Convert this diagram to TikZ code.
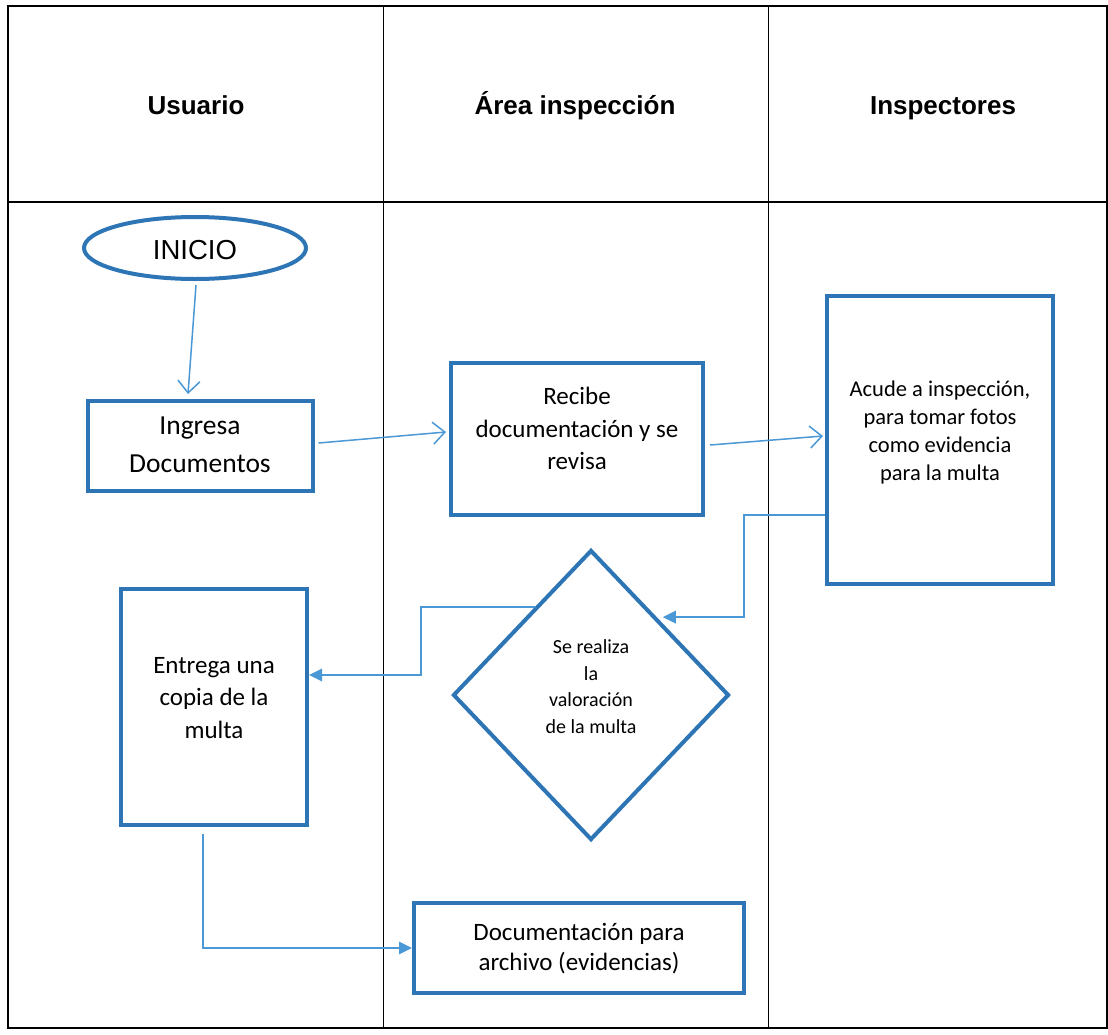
\documentclass[tikz,border=0pt]{standalone}
\usepackage{fontspec}
\setmainfont{Carlito}
\newfontfamily\arialf{Liberation Sans}
\usetikzlibrary{shapes.geometric,arrows.meta,calc}
\definecolor{boxblue}{RGB}{46,117,182}
\definecolor{lineblue}{RGB}{74,152,213}
\newcommand\liftbox[2]{\raisebox{#1}[\height][\depth]{\begin{tabular}{@{}c@{}}#2\end{tabular}}}
\begin{document}
\begin{tikzpicture}[x=1pt,y=-1pt,
  gridthin/.style={draw=black,line width=1pt},
  gridthick/.style={draw=black,line width=1.6pt},
  box/.style={draw=boxblue,line width=4pt,rectangle,inner sep=0pt,fill=white},
  conn/.style={draw=lineblue,line width=1.5pt},
  openarr/.style={conn,-{Straight Barb[length=12pt,width=22pt]}},
  fillarr/.style={conn,-{Triangle[length=13pt,width=12.5pt]}},
  hdr/.style={font=\arialf\bfseries\fontsize{26}{31}\selectfont,anchor=base}]
\useasboundingbox (0,0) rectangle (1108,1034);
\fill[white] (0,0) rectangle (1108,1034);
% swimlane table
\draw[gridthick] (8,6) rectangle (1107,1028);
\draw[gridthick] (8,202) -- (1107,202);
\draw[gridthin] (383,6) -- (383,1028);
\draw[gridthin] (768,6) -- (768,1028);
% headers
\node[hdr] (h1) at (196,114) {Usuario};
\node[hdr] (h2) at (575,114) {Área inspección};
\node[hdr] (h3) at (943,114) {Inspectores};
% nodes
\node[draw=boxblue,line width=4pt,ellipse,minimum width=222pt,minimum height=62pt,inner sep=0pt,fill=white,font=\arialf\fontsize{27.5}{32}\selectfont] (inicio) at (195,248) {\raisebox{-2pt}[\height][\depth]{INICIO}};
\node[box,minimum width=225pt,minimum height=90pt,font=\fontsize{27.5}{38}\selectfont] (ingresa) at (200,446) {\liftbox{0pt}{Ingresa\\Documentos}};
\node[box,minimum width=252pt,minimum height=152pt,font=\fontsize{25}{32.5}\selectfont] (recibe) at (577,439) {\liftbox{8.5pt}{Recibe\\documentación y se\\revisa}};
\node[box,minimum width=226pt,minimum height=288pt,font=\fontsize{22.5}{28}\selectfont] (acude) at (940,440) {\liftbox{7.5pt}{Acude a inspección,\\para tomar fotos\\como evidencia\\para la multa}};
\node[box,minimum width=186pt,minimum height=236pt,font=\fontsize{25}{32.5}\selectfont] (entrega) at (214,707) {\liftbox{8pt}{Entrega una\\copia de la\\multa}};
\node[box,diamond,minimum width=276pt,minimum height=290pt,font=\fontsize{20}{26.5}\selectfont] (dmd) at (591,695) {\liftbox{7pt}{Se realiza\\la\\valoración\\de la multa}};
\node[box,minimum width=330pt,minimum height=90pt,font=\fontsize{25}{30}\selectfont] (doc) at (579,948) {\liftbox{-1pt}{Documentación para\\archivo (evidencias)}};
% connectors
\coordinate (dmdR) at ($(dmd.north)!0.47!(dmd.east)$);
\coordinate (dmdL) at ($(dmd.north)!0.4!(dmd.west)$);
\draw[openarr] ($(inicio.south)+(1,4)$) -- ($(ingresa.north)+(-12,-5)$);
\draw[openarr] ($(ingresa.east)+(4,-3)$) -- ($(recibe.west)+(-3,-7)$);
\draw[openarr] ($(recibe.east)+(5,6)$) -- ($(acude.west)+(-2,-4)$);
\draw[fillarr] ($(acude.west)+(0,75)$) -- ++(-81,0) |- ($(dmdR)+(6,0)$);
\draw[fillarr] (dmdL) -- ++(-114,0) |- ($(entrega.east)+(0,-32)$);
\draw[fillarr] ($(entrega.south)+(-11,7)$) |- (doc.west);
\end{tikzpicture}
\end{document}
